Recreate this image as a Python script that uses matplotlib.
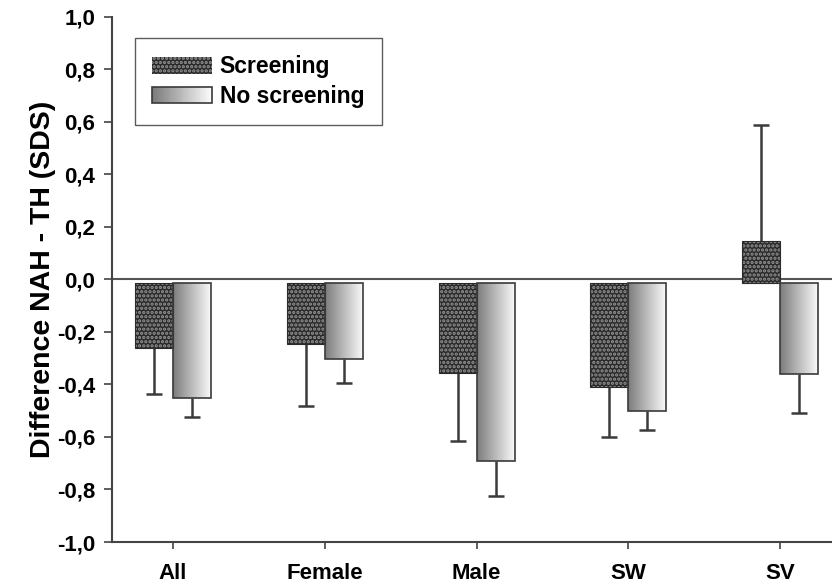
import matplotlib
matplotlib.use('Agg')
import matplotlib.pyplot as plt
import numpy as np
from matplotlib.patches import Rectangle
from matplotlib.colors import LinearSegmentedColormap
from matplotlib.legend_handler import HandlerBase
from matplotlib.ticker import FuncFormatter

groups = ['All', 'Female', 'Male', 'SW', 'SV']
screening = [-0.26, -0.247, -0.357, -0.41, 0.148]
screening_err = [0.177, 0.236, 0.259, 0.19, 0.442]
no_screening = [-0.45, -0.304, -0.69, -0.50, -0.36]
no_screening_err = [0.075, 0.091, 0.135, 0.075, 0.15]

plt.rcParams['font.family'] = ['Liberation Sans', 'DejaVu Sans']
plt.rcParams['font.weight'] = 'bold'
plt.rcParams['axes.labelweight'] = 'bold'
plt.rcParams['hatch.linewidth'] = 1.6

grad_cmap = LinearSegmentedColormap.from_list('grad', ['#7c7c7c', '#fafafa'])
dark = '#2a2a2a'
dots = '#959595'
line_col = '#3a3a3a'
base = -0.012
width = 0.25


class GradientHandler(HandlerBase):
    def create_artists(self, legend, orig_handle, xdescent, ydescent,
                       width, height, fontsize, trans):
        n = 40
        out = []
        for i in range(n):
            r = Rectangle((-xdescent + width * i / n, -ydescent), width / n * 1.05, height,
                          facecolor=grad_cmap(i / (n - 1)), lw=0, transform=trans)
            out.append(r)
        out.append(Rectangle((-xdescent, -ydescent), width, height, fill=False,
                             edgecolor=line_col, lw=1.2, transform=trans))
        return out


fig = plt.figure(figsize=(8.32, 5.85), dpi=100)
ax = fig.add_axes([0.1346, 0.0735, 0.8654, 0.8975])

x = np.arange(len(groups))


def draw_err(xs, vals, errs):
    ends = [v - e if v < 0 else v + e for v, e in zip(vals, errs)]
    ax.vlines(xs, vals, ends, color=line_col, lw=1.8, zorder=1)
    ax.plot(xs, ends, '_', color=line_col, ms=12, mew=1.8, zorder=1)


draw_err(x - width / 2, screening, screening_err)
draw_err(x + width / 2, no_screening, no_screening_err)

s_heights = [v - base for v in screening]
ax.bar(x - width / 2, s_heights, width, bottom=base, facecolor=dark,
       edgecolor=dots, hatch='....', lw=0, zorder=3)
ax.bar(x - width / 2, s_heights, width, bottom=base, fill=False,
       edgecolor=dark, lw=0.8, zorder=4)

n_heights = [v - base for v in no_screening]
nbars = ax.bar(x + width / 2, n_heights, width, bottom=base, facecolor='none',
               edgecolor=line_col, lw=1.2, zorder=4)
grad = np.linspace(0, 1, 256).reshape(1, -1)
for r in nbars:
    x0, y0 = r.get_x(), r.get_y()
    im = ax.imshow(grad, cmap=grad_cmap, aspect='auto', zorder=3,
                   extent=[x0, x0 + r.get_width(), y0, y0 + r.get_height()])
    im.set_clip_path(r)

ax.axhline(0, color='#555555', lw=1.5, zorder=2)

ax.set_xlim(-0.40, 4.34)
ax.set_ylim(-1.0, 1.0)
ax.set_xticks(x)
ax.set_xticklabels(groups, fontsize=16)
ax.set_yticks(np.arange(-1.0, 1.01, 0.2))
ax.yaxis.set_major_formatter(FuncFormatter(lambda v, p: ('%.1f' % (v + 0.0)).replace('.', ',').replace('-0,0', '0,0')))
ax.tick_params(axis='y', labelsize=16, length=6, width=1.2, color='#444444', pad=6)
ax.tick_params(axis='x', length=5, width=1.2, color='#444444', pad=10)
ax.set_ylabel('Difference NAH - TH (SDS)', fontsize=20.5, labelpad=1)

for s in ['top', 'right']:
    ax.spines[s].set_visible(False)
for s in ['left', 'bottom']:
    ax.spines[s].set_color('#444444')
    ax.spines[s].set_linewidth(1.5)

h1 = Rectangle((0, 0), 1, 1, facecolor=dark, edgecolor=dots, hatch='....', lw=0)
h2 = Rectangle((0, 0), 1, 1)
leg = ax.legend([h1, h2], ['Screening', 'No screening'], loc='upper left',
                bbox_to_anchor=(0.032, 0.96), borderaxespad=0, fontsize=16.5,
                handlelength=2.6, handleheight=0.75, handletextpad=0.35,
                fancybox=False, frameon=True, edgecolor='#333333',
                borderpad=0.75, labelspacing=0.3,
                handler_map={h2: GradientHandler()})
leg.get_frame().set_linewidth(1.0)

fig.savefig('out.png', dpi=100)
